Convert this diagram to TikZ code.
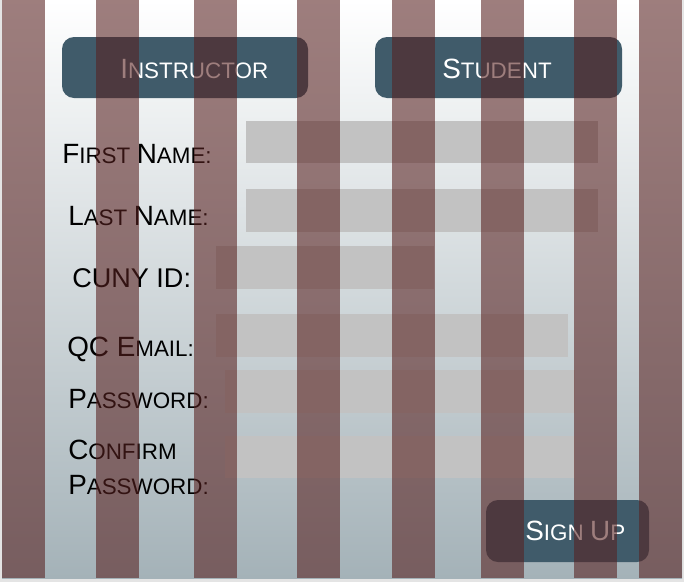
\documentclass[tikz,border=0pt]{standalone}
\usepackage{fontspec}
\setmainfont{Liberation Sans}
\usepackage{tikz}
\definecolor{btnteal}{RGB}{64,91,106}
\definecolor{fieldgray}{RGB}{194,194,194}
\definecolor{bgbottom}{RGB}{164,178,184}
\definecolor{stripered}{RGB}{88,33,32}
\definecolor{edgegray}{RGB}{228,228,228}
\newcommand{\bigc}[1]{{\fontsize{20.9pt}{22pt}\selectfont #1}}
\newcommand{\smc}[1]{{\fontsize{16.8pt}{18pt}\selectfont #1}}
\tikzset{
  lbl/.style={anchor=base west,inner sep=0pt,text=black,font=\fontsize{17.5pt}{18pt}\selectfont},
  btnlbl/.style={anchor=base west,inner sep=0pt,text=white,font=\fontsize{17.5pt}{18pt}\selectfont},
  btnbox/.style={fill=btnteal,rounded corners=9pt},
  fieldbox/.style={fill=fieldgray},
  stripe/.style={fill=stripered,fill opacity=0.58}
}

\begin{document}
\begin{tikzpicture}[x=0.75pt,y=0.75pt,yscale=-1,xscale=1]
\useasboundingbox (0,0) rectangle (684,582);
\fill[edgegray] (0,0) rectangle (684,582);
\shade[top color=white,bottom color=bgbottom] (2,0) rectangle (682,578);
\fill[btnbox] (62,37) rectangle (308,98);
\fill[btnbox] (375,37) rectangle (622,98);
\fill[btnbox] (486,500) rectangle (649,562);
\fill[fieldbox] (246,121) rectangle (598,163);
\fill[fieldbox] (246,189) rectangle (598,232);
\fill[fieldbox] (216,246) rectangle (434,289);
\fill[fieldbox] (216,314) rectangle (568,357);
\fill[fieldbox] (225,370) rectangle (575,413);
\fill[fieldbox] (225,436) rectangle (575,478);
\draw (120,78) node [btnlbl] (instructor) {\bigc{I}\smc{NSTRUCTOR}};
\draw (442,78) node [btnlbl] (student) {\bigc{S}\smc{TUDENT}};
\draw (525,540) node [btnlbl] (signup) {\bigc{S}\smc{IGN} \bigc{U}\smc{P}};
\draw (62,163) node [lbl] (firstname) {\bigc{F}\smc{IRST} \bigc{N}\smc{AME:}};
\draw (68,225) node [lbl] (lastname) {\bigc{L}\smc{AST} \bigc{N}\smc{AME:}};
\draw (72,287) node [lbl] (cunyid) {{\fontsize{20.3pt}{22pt}\selectfont CUNY ID:}};
\draw (67,356) node [lbl] (qcemail) {\bigc{QC E}\smc{MAIL:}};
\draw (68,408) node [lbl] (password) {\bigc{P}\smc{ASSWORD:}};
\draw (68,459) node [lbl] (confirm) {\bigc{C}\smc{ONFIRM}};
\draw (68,494) node [lbl] (confirmpw) {\bigc{P}\smc{ASSWORD:}};
\foreach \sx in {2,96,194,297,392,481,574,639}
  \fill[stripe] (\sx,0) rectangle ++(43,578);
\end{tikzpicture}
\end{document}
